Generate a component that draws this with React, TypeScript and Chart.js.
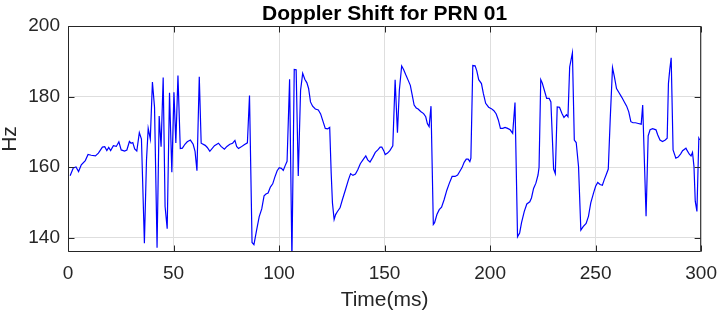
import React, { useEffect, useRef } from 'react';
import { Chart, registerables } from 'chart.js';

Chart.register(...registerables);

const titleText = 'Doppler Shift for PRN 01';
const xLabel = 'Time(ms)';
const yLabel = 'Hz';
const xTicks = [0, 50, 100, 150, 200, 250, 300];
const yTicks = [140, 160, 180, 200];

const timeMs = [
  1, 2.5, 3.8, 5, 6.3, 8.2, 9.5, 11, 13, 14.4, 16.3, 17.4, 18.4, 19.3, 20.2, 21.5, 22.9, 24.1, 25.2, 26.8,
  27.9, 29.1, 29.9, 30.7, 31.6, 32.6, 33.8, 34.8, 36.2, 37.2, 38.0, 39.0, 40.0, 41.0, 42.2, 43.2, 44.1, 45.1, 46.0, 47.0,
  48.1, 49.2, 50.2, 51.1, 52.1, 53.2, 54.2, 55.4, 56.5, 58.0, 59.3, 60.2, 61.1, 62.2, 63.1, 65.0, 66.0, 67.2, 69.4, 71.3,
  72.5, 74.1, 75.3, 76.7, 78.0, 79.1, 79.9, 80.8, 81.9, 83.5, 85.0, 86.0, 87.2, 88.1, 89.3, 90.6, 91.8, 92.9, 93.8, 94.8,
  95.9, 97.0, 98.0, 99.1, 100.1, 101.1, 102.0, 103.0, 103.8, 105.0, 106.1, 107.2, 108.1, 109.1, 110.2, 111.2, 112.2, 113.2, 114.0, 114.9,
  115.9, 117.2, 118.6, 119.7, 120.6, 121.9, 123.1, 124.0, 124.7, 125.3, 126.1, 126.8, 127.6, 128.9, 130.0, 131.5, 132.9, 133.9, 135.0, 136.2,
  137.3, 138.5, 140.0, 141.1, 142.0, 143.1, 144.4, 145.6, 146.8, 147.9, 148.7, 149.6, 150.3, 151.4, 152.5, 153.9, 155.0, 156.1, 157.0, 158.1,
  159.0, 160.1, 161.2, 162.2, 163.1, 164.0, 165.0, 165.9, 167.1, 168.5, 169.5, 170.3, 171.1, 172.0, 173.1, 173.7, 174.8, 175.9, 177.0, 178.2,
  179.5, 180.7, 182.0, 183.4, 184.6, 185.6, 186.7, 187.7, 188.7, 189.6, 190.4, 190.9, 191.8, 192.9, 193.7, 194.6, 195.9, 196.8, 197.9, 199.3,
  200.6, 201.8, 202.9, 203.9, 204.9, 206.0, 207.1, 208.3, 209.5, 210.7, 211.8, 213.0, 214.0, 214.9, 216.2, 217.4, 218.8, 219.6, 220.6, 221.7,
  222.7, 223.2, 224.0, 224.7, 225.7, 226.8, 228.0, 228.8, 230.1, 230.9, 231.8, 232.9, 234.0, 235.0, 236.2, 236.9, 237.7, 239.0, 239.9, 240.8,
  241.9, 243.0, 244.1, 245.5, 246.6, 247.7, 249.1, 250.0, 251.0, 252.1, 253.2, 254.1, 255.0, 256.0, 256.9, 258.0, 258.9, 259.9, 261.1, 262.4,
  263.6, 264.7, 265.7, 266.7, 267.7, 268.9, 270.2, 271.6, 272.3, 273.9, 274.9, 275.8, 277.0, 278.6, 279.4, 280.5, 281.7, 283.0, 283.9, 284.5,
  285.1, 285.8, 286.7, 288.0, 289.1, 290.3, 291.2, 292.8, 293.4, 294.4, 295.2, 295.9, 296.6, 297.2, 298.0, 298.9, 299.3,
];

const dopplerHz = [
  157.6, 159.8, 160.1, 158.8, 160.7, 161.9, 163.6, 163.4, 163.2, 164.0, 165.7, 165.8, 164.7, 165.6, 164.7, 166.1, 165.9, 167.2, 164.9, 164.6,
  164.9, 167.3, 166.8, 167.0, 165.2, 164.6, 169.8, 168.0, 138.5, 162.1, 171.0, 168.0, 184.1, 177.0, 137.2, 174.5, 165.8, 185.4, 148.9, 142.6,
  181.1, 158.6, 181.2, 166.9, 186.0, 165.3, 165.4, 166.5, 167.2, 167.7, 166.5, 164.5, 159.0, 185.6, 166.8, 166.2, 165.6, 164.5, 166.1, 166.8,
  165.9, 165.1, 165.9, 166.5, 166.8, 167.6, 165.9, 165.3, 165.7, 166.4, 166.9, 180.3, 138.7, 138.1, 142.0, 146.0, 148.2, 151.9, 152.4, 152.7,
  154.4, 155.3, 157.2, 159.0, 159.9, 159.7, 159.1, 160.6, 161.7, 184.9, 134.0, 187.7, 187.6, 157.5, 181.8, 186.6, 184.9, 183.9, 182.3, 178.5,
  177.3, 176.5, 176.2, 175.1, 173.4, 171.0, 170.9, 171.3, 158.4, 149.9, 145.2, 146.6, 147.4, 148.5, 150.8, 153.7, 156.5, 158.2, 157.7, 158.1,
  159.3, 161.0, 162.3, 163.2, 162.1, 161.5, 162.8, 164.2, 164.9, 165.7, 165.7, 164.7, 163.6, 164.0, 164.7, 166.1, 184.8, 169.8, 181.8, 188.7,
  187.7, 186.1, 184.6, 183.2, 180.4, 177.6, 176.8, 176.5, 175.8, 175.2, 174.3, 172.3, 171.5, 177.3, 143.8, 144.3, 146.6, 148.0, 148.7, 150.8,
  153.5, 155.5, 157.4, 157.4, 157.8, 158.8, 159.9, 161.4, 162.3, 162.3, 161.6, 162.6, 188.8, 188.7, 187.3, 184.8, 183.7, 180.9, 178.1, 177.0,
  176.6, 176.0, 175.1, 173.4, 171.0, 171.0, 171.3, 171.0, 170.6, 169.6, 178.3, 140.3, 141.4, 144.3, 147.5, 149.6, 150.2, 151.3, 154.0, 155.5,
  157.8, 160.0, 184.8, 183.9, 181.8, 179.5, 179.5, 178.5, 159.5, 158.2, 177.1, 177.0, 175.3, 174.1, 174.9, 174.3, 188.4, 192.4, 167.7, 167.0,
  160.2, 142.2, 143.2, 144.1, 146.1, 149.9, 152.9, 154.6, 155.7, 155.1, 154.9, 156.5, 157.9, 159.5, 173.4, 188.2, 185.6, 182.3, 181.1, 179.8,
  178.5, 177.3, 175.7, 172.9, 172.6, 172.6, 172.4, 172.2, 177.6, 146.1, 168.9, 170.6, 170.9, 170.6, 169.2, 167.7, 167.3, 167.7, 168.2, 183.7,
  187.5, 191.0, 164.9, 162.6, 162.9, 163.8, 164.7, 165.4, 164.7, 163.7, 163.2, 164.2, 160.2, 150.4, 147.5, 168.2, 167.7,
];

const FONT = '"Liberation Sans", Arial, Helvetica, sans-serif';
const AXIS_COLOR = '#262626';

export default function App() {
  const ref = useRef<HTMLCanvasElement | null>(null);

  useEffect(() => {
    const canvas = ref.current;
    if (!canvas) return;

    const boxPlugin = {
      id: 'matlabBox',
      afterDatasetsDraw(chart: any) {
        const { ctx, chartArea: a, scales } = chart;
        const L = a.left + 0.5;
        const R = a.right - 0.5;
        const T = a.top + 0.5;
        const B = a.bottom - 0.5;
        const tl = 6;
        ctx.save();
        ctx.strokeStyle = AXIS_COLOR;
        ctx.lineWidth = 1;
        ctx.beginPath();
        ctx.rect(L, T, R - L, B - T);
        for (const v of xTicks) {
          const px = Math.round(scales.x.getPixelForValue(v)) + 0.5;
          ctx.moveTo(px, B);
          ctx.lineTo(px, B - tl);
          ctx.moveTo(px, T);
          ctx.lineTo(px, T + tl);
        }
        for (const v of yTicks) {
          const py = Math.round(scales.y.getPixelForValue(v)) + 0.5;
          ctx.moveTo(L, py);
          ctx.lineTo(L + tl, py);
          ctx.moveTo(R, py);
          ctx.lineTo(R - tl, py);
        }
        ctx.stroke();
        ctx.fillStyle = '#000000';
        ctx.font = `bold 21px ${FONT}`;
        ctx.textAlign = 'center';
        ctx.textBaseline = 'alphabetic';
        ctx.fillText(titleText, (a.left + a.right) / 2, 20);
        ctx.restore();
      },
    };

    const chart = new Chart(canvas, {
      type: 'line',
      data: {
        datasets: [
          {
            data: timeMs.map((t, i) => ({ x: t, y: dopplerHz[i] })),
            borderColor: '#0000ff',
            borderWidth: 1.2,
            pointRadius: 0,
            tension: 0,
            fill: false,
            clip: 0,
          },
        ],
      },
      options: {
        animation: false,
        responsive: false,
        devicePixelRatio: 1,
        events: [],
        layout: { padding: { left: 0, right: 19, top: 26, bottom: 0 } },
        plugins: {
          legend: { display: false },
          title: { display: false },
          tooltip: { enabled: false },
        },
        scales: {
          x: {
            type: 'linear',
            min: 0,
            max: 300,
            afterBuildTicks: (s: any) => {
              s.ticks = xTicks.map((v) => ({ value: v }));
            },
            afterFit: (s: any) => {
              s.height = 65;
            },
            grid: { color: '#dedede', lineWidth: 1, drawTicks: false },
            border: { display: false },
            ticks: {
              color: AXIS_COLOR,
              font: { family: FONT, size: 19 },
              padding: 10,
              maxRotation: 0,
              autoSkip: false,
            },
            title: {
              display: true,
              text: xLabel,
              color: AXIS_COLOR,
              font: { family: FONT, size: 21, lineHeight: 1 },
              padding: { top: 0, bottom: 6 },
            },
          },
          y: {
            type: 'linear',
            min: 136,
            max: 200,
            afterBuildTicks: (s: any) => {
              s.ticks = yTicks.map((v) => ({ value: v }));
            },
            afterFit: (s: any) => {
              s.width = 68;
            },
            grid: { color: '#dedede', lineWidth: 1, drawTicks: false },
            border: { display: false },
            ticks: {
              color: AXIS_COLOR,
              font: { family: FONT, size: 19 },
              padding: 8,
              autoSkip: false,
            },
            title: {
              display: true,
              text: yLabel,
              color: AXIS_COLOR,
              font: { family: FONT, size: 21, lineHeight: 1 },
              padding: { top: 0, bottom: 0 },
            },
          },
        },
      },
      plugins: [boxPlugin],
    });

    return () => {
      chart.destroy();
    };
  }, []);

  return (
    <div style={{ position: 'absolute', left: 0, top: 0, width: 727, height: 317, background: '#ffffff' }}>
      <canvas ref={ref} width={727} height={317} style={{ display: 'block', width: 727, height: 317 }} />
    </div>
  );
}
